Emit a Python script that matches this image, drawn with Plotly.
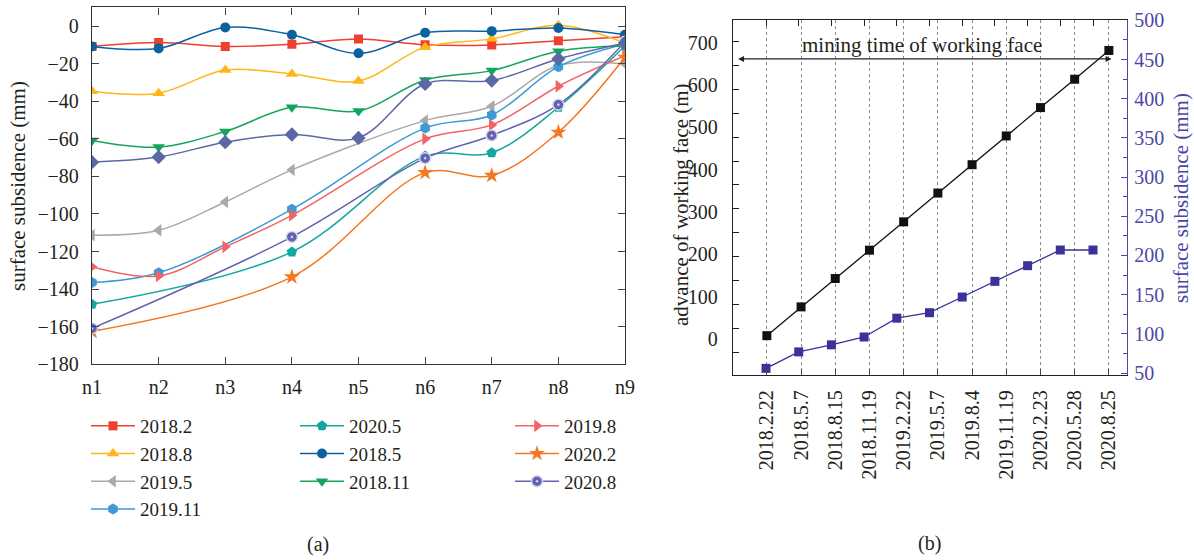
import plotly.graph_objects as go

# ---------------- data: panel (a) ----------------
points = ['n1', 'n2', 'n3', 'n4', 'n5', 'n6', 'n7', 'n8', 'n9']
s2018_2 = [-10.8, -8.7, -10.8, -9.7, -6.9, -9.9, -10.0, -7.8, -5.7]
s2018_5 = [-10.8, -11.9, -0.7, -4.6, -14.5, -3.5, -2.7, -1.0, -4.6]
s2018_8 = [-34.7, -35.7, -23.4, -25.5, -29.2, -11.2, -6.8, 0.4, -9.0]
s2018_11 = [-60.9, -64.4, -56.1, -43.2, -45.2, -28.7, -23.7, -13.4, -10.5]
s2019_2 = [-72.4, -69.7, -61.8, -57.7, -59.5, -30.8, -29.0, -17.5, -9.0]
s2019_5 = [-111.3, -108.7, -93.6, -76.5, None, -50.3, -42.7, -21.0, -20.2]
s2019_8 = [-128.1, -133.0, -117.5, -100.7, None, -60.0, -52.6, -32.0, -15.8]
s2019_11 = [-136.5, -131.3, None, -97.5, None, -54.3, -47.3, -21.6, -9.5]
s2020_2 = [-162.5, None, None, -133.5, None, -78.0, -79.5, -56.5, -16.6]
s2020_5 = [-148.1, None, None, -120.2, None, -69.2, -67.4, -43.2, -10.5]
s2020_8 = [-160.9, None, None, -112.2, None, -70.3, -58.2, -41.8, -8.3]

# ---------------- data: panel (b) ----------------
dates = ['2018.2.22', '2018.5.7', '2018.8.15', '2018.11.19', '2019.2.22', '2019.5.7',
         '2019.8.4', '2019.11.19', '2020.2.23', '2020.5.28', '2020.8.25']
advance = [8, 76, 143, 210, 277, 345, 412, 480, 547, 614, 682]
subsidence = [56, 77, 86, 96, 120, 127, 147, 167, 187, 207, 207]

FONT = 'Liberation Serif'
TXT = '#231f20'
FS = 20
FT = 21
PURPLE = '#3a3199'
PURPLE_AX = '#4a47a6'
W, H = 1194, 560

def px_x(p):
    return p / W

def px_y(p):
    return (H - p) / H

fig = go.Figure()

# (name, values, color, symbol, size, legend, showlegend)
series = [
    ('2018.2', s2018_2, '#ef3f2f', 'square', 9, 'legend', True),
    ('2018.8', s2018_8, '#ffb619', 'triangle-up', 11, 'legend', True),
    ('2019.5', s2019_5, '#a9a9a9', 'triangle-left', 11, 'legend', True),
    ('2019.11', s2019_11, '#3d9ad5', 'hexagon', 11, 'legend', True),
    ('2020.5', s2020_5, '#12a79f', 'pentagon', 11, 'legend2', True),
    ('2018.5', s2018_5, '#0b629f', 'circle', 10, 'legend2', True),
    ('2018.11', s2018_11, '#13a55b', 'triangle-down', 11, 'legend2', True),
    ('2019.8', s2019_8, '#f26363', 'triangle-right', 11, 'legend3', True),
    ('2020.2', s2020_2, '#f3781f', 'star', 12, 'legend3', True),
    ('2020.8', s2020_8, '#6262b2', 'circle-dot', 11, 'legend3', True),
    ('2019.2', s2019_2, '#5b68a6', 'diamond', 11, 'legend', False),
]

for name, vals, col, sym, size, leg, show in series:
    mline = dict(width=0)
    if sym == 'circle-dot':
        mline = dict(width=1.5, color='#d6d6f2')
    fig.add_trace(go.Scatter(
        x=points, y=vals, name=name, mode='lines+markers', connectgaps=True,
        line=dict(color=col, width=1.5, shape='spline'),
        marker=dict(symbol=sym, size=size, color=col, line=mline),
        xaxis='x', yaxis='y', legend=leg, showlegend=show))

fig.add_trace(go.Scatter(
    x=dates, y=advance, mode='lines+markers', name='advance',
    line=dict(color='#111111', width=1.3),
    marker=dict(symbol='square', size=9, color='#111111'),
    xaxis='x2', yaxis='y2', showlegend=False))

fig.add_trace(go.Scatter(
    x=dates, y=subsidence, mode='lines+markers', name='subsidence',
    line=dict(color=PURPLE, width=1.3),
    marker=dict(symbol='square', size=9, color=PURPLE),
    xaxis='x3', yaxis='y3', showlegend=False))

axis_font = dict(family=FONT, size=FS, color=TXT)
title_font = dict(family=FONT, size=FT, color=TXT)

legend_common = dict(font=dict(family=FONT, size=19, color=TXT), orientation='v',
                     bgcolor='rgba(0,0,0,0)', xanchor='left', yanchor='top',
                     tracegroupgap=0, itemwidth=44)

fig.update_layout(
    width=W, height=H, template='none',
    margin=dict(l=0, r=0, t=0, b=0),
    paper_bgcolor='white', plot_bgcolor='white',
    font=dict(family=FONT, size=FS, color=TXT),
    xaxis=dict(domain=[px_x(92), px_x(625)], anchor='y', type='category',
               range=[0, 8], ticks='inside', ticklen=7, tickwidth=1.3,
               showline=True, linecolor='#333', linewidth=1.4, mirror='ticks',
               showgrid=False, zeroline=False, tickfont=axis_font,
               ticklabelstandoff=4, automargin=False),
    yaxis=dict(domain=[px_y(364.3), px_y(7.3)], anchor='x', range=[-180, 10],
               tick0=0, dtick=20, ticks='inside', ticklen=7, tickwidth=1.3,
               showline=True, linecolor='#333', linewidth=1.4, mirror='ticks',
               showgrid=False, zeroline=False, tickfont=axis_font,
               ticklabelstandoff=8, automargin=False),
    xaxis2=dict(domain=[px_x(733), px_x(1127)], anchor='y2', type='category',
                categoryorder='array', categoryarray=dates,
                range=[-0.99, 10.53], ticks='inside', ticklen=6, tickwidth=1.2,
                tickangle=-90, showline=True, linecolor='#222', linewidth=1.3,
                mirror=True, showgrid=True, griddash='dot', gridcolor='#8a8a8a',
                gridwidth=1, zeroline=False, tickfont=axis_font,
                ticklabelstandoff=6, automargin=False),
    xaxis3=dict(overlaying='x2', anchor='y2', side='top', type='category',
                categoryorder='array', categoryarray=dates,
                range=[-1.01, 11.04], ticks='inside', ticklen=6, tickwidth=1.2,
                tickcolor='#222', showticklabels=False, showline=False,
                showgrid=False, zeroline=False, automargin=False),
    yaxis2=dict(domain=[px_y(375), px_y(20)], anchor='x2', range=[-85, 754],
                tick0=0, dtick=100, ticks='', showline=True, linecolor='#222',
                linewidth=1.3, showgrid=False, zeroline=False, tickfont=axis_font,
                ticklabelstandoff=10, automargin=False,
                minor=dict(tickmode='linear', tick0=-31.4, dtick=56.5,
                           ticks='inside', ticklen=6, tickcolor='#222',
                           showgrid=False)),
    yaxis3=dict(overlaying='y2', anchor='x2', side='right', range=[47.5, 500.5],
                tick0=50, dtick=50, ticks='inside', ticklen=6, tickwidth=1.2,
                tickcolor=PURPLE_AX, showline=True, linecolor=PURPLE_AX,
                linewidth=1.4, showgrid=False, zeroline=False,
                tickfont=dict(family=FONT, size=FS, color=PURPLE_AX),
                ticklabelstandoff=2, automargin=False,
                minor=dict(tickmode='linear', tick0=25, dtick=25, ticks='inside',
                           ticklen=4, tickcolor=PURPLE_AX, showgrid=False)),
    legend=dict(x=px_x(86), y=px_y(407), **legend_common),
    legend2=dict(x=px_x(295), y=px_y(407), **legend_common),
    legend3=dict(x=px_x(510), y=px_y(407), **legend_common),
)

annotations = [
    dict(text='surface subsidence (mm)', x=px_x(18), y=px_y(186), xref='paper',
         yref='paper', xanchor='center', yanchor='middle', showarrow=False,
         textangle=-90, font=title_font),
    dict(text='advance of working face (m)', x=px_x(681), y=px_y(205), xref='paper',
         yref='paper', xanchor='center', yanchor='middle', showarrow=False,
         textangle=-90, font=title_font),
    dict(text='surface subsidence (mm)', x=px_x(1181), y=px_y(198), xref='paper',
         yref='paper', xanchor='center', yanchor='middle', showarrow=False,
         textangle=-90, font=dict(family=FONT, size=FT, color=PURPLE_AX)),
    dict(text='(a)', x=px_x(318), y=px_y(544), xref='paper', yref='paper',
         xanchor='center', yanchor='middle', showarrow=False, font=axis_font),
    dict(text='(b)', x=px_x(929), y=px_y(543), xref='paper', yref='paper',
         xanchor='center', yanchor='middle', showarrow=False, font=axis_font),
    dict(text='', x=10.08, y=662, ax=-0.886, ay=662, xref='x2', yref='y2',
         axref='x2', ayref='y2', showarrow=True, arrowside='end+start',
         arrowhead=2, arrowsize=1, arrowwidth=1.2, arrowcolor='#222'),
    dict(text='mining time of working face', x=4.53, y=662, xref='x2', yref='y2',
         xanchor='center', showarrow=False, yanchor='bottom', font=title_font),
]
fig.update_layout(annotations=annotations)

fig.write_html('out.html', config={'displayModeBar': False},
               post_script="document.body.style.margin='0';")
